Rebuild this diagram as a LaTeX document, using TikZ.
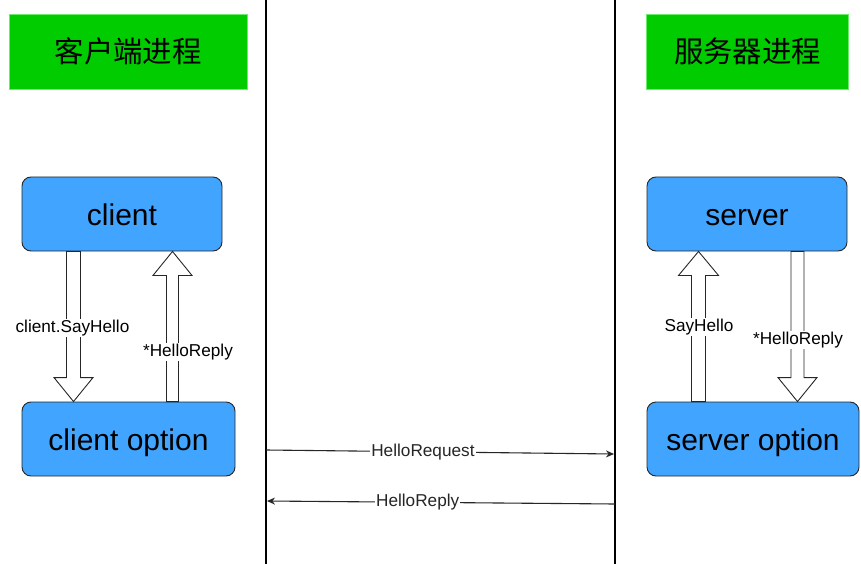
\documentclass[tikz,border=0pt]{standalone}
\usepackage{fontspec}
\setmainfont{Liberation Sans}
\newfontfamily\cjk{Noto Sans CJK SC}
\usetikzlibrary{arrows.meta,calc}
\definecolor{titlegreen}{HTML}{00CC00}
\definecolor{titleedge}{HTML}{6BEB6B}
\definecolor{boxblue}{HTML}{41A5FF}
\definecolor{boxedge}{HTML}{262626}
\newcommand\fatarrow[5]{%
  \draw[fat] let \p1=(#1), \p2=(#2), \n1={sign(\y2-\y1)} in
    ({\x1-#3pt},\y1) -- ({\x1-#3pt},{\y2-\n1*#5pt}) -- ({\x1-#4pt},{\y2-\n1*#5pt})
    -- (\x1,\y2) -- ({\x1+#4pt},{\y2-\n1*#5pt}) -- ({\x1+#3pt},{\y2-\n1*#5pt})
    -- ({\x1+#3pt},\y1) -- cycle;}
\begin{document}
\begin{tikzpicture}[x=1pt,y=-1pt,
  title/.style={draw=titleedge, line width=0.8pt, fill=titlegreen, minimum height=75pt, inner sep=0pt,
    font=\cjk\fontsize{29.4}{34}\selectfont},
  proc/.style={draw=boxedge, line width=0.9pt, fill=boxblue, rounded corners=9pt, minimum height=74pt,
    inner sep=0pt, text height=25pt, text depth=3pt, font=\fontsize{30}{34}\selectfont},
  fat/.style={draw=black!85, line width=0.9pt, fill=white},
  lbl/.style={fill=white, inner sep=1pt, font=\fontsize{17.2}{20}\selectfont},
  lane/.style={line width=2.2pt, black},
  msg/.style={line width=1.1pt, black!85, -{Stealth[length=8pt,width=7pt]}}]
\useasboundingbox (0,0) rectangle (861,564);
\fill[white] (0,0) rectangle (861,564);

% lanes
\coordinate (Ltop) at (266,0);
\coordinate (Lbot) at (266,564);
\coordinate (Rtop) at (615,0);
\coordinate (Rbot) at (615,564);
\draw[lane] (Ltop) -- (Lbot);
\draw[lane] (Rtop) -- (Rbot);

% titles
\node[title, minimum width=237.5pt] (tleft) at (128.25,51.5) {客户端进程};
\node[title, minimum width=202pt] (tright) at (747.5,51.5) {服务器进程};

% process boxes
\node[proc, minimum width=200pt] (client) at (122,214) {client};
\node[proc, minimum width=213pt] (copt) at (128.5,439) {client option};
\node[proc, minimum width=200pt] (server) at (747,214) {server};
\node[proc, minimum width=212pt] (sopt) at (753,439) {server option};

% fat arrows (client side)
\coordinate (a1s) at (73.5,0 |- client.south);
\coordinate (a1e) at (73.5,0 |- copt.north);
\fatarrow{a1s}{a1e}{7}{19.5}{24}
\coordinate (a2s) at (172.5,0 |- copt.north);
\coordinate (a2e) at (172.5,0 |- client.south);
\fatarrow{a2s}{a2e}{6}{19.5}{24}
\node[lbl] (l1) at (72.5,328) {client.SayHello};
\node[lbl] (l2) at (188,352) {*HelloReply};

% fat arrows (server side)
\coordinate (b1s) at (698.5,0 |- sopt.north);
\coordinate (b1e) at (698.5,0 |- server.south);
\fatarrow{b1s}{b1e}{7}{20}{24}
\coordinate (b2s) at (797.5,0 |- server.south);
\coordinate (b2e) at (797.5,0 |- sopt.north);
\fatarrow{b2s}{b2e}{6.5}{19.5}{24}
\node[lbl] (l3) at (699,327) {SayHello};
\node[lbl] (l4) at (798,340) {*HelloReply};

% messages
\coordinate (rq1) at (266,450);
\coordinate (rq2) at (614,454);
\draw[msg] (rq1) -- node[lbl, pos=0.451] (m1) {HelloRequest} (rq2);
\coordinate (rp1) at (615,504);
\coordinate (rp2) at (267,501);
\draw[msg] (rp1) -- node[lbl, pos=0.567] (m2) {HelloReply} (rp2);
\end{tikzpicture}
\end{document}
